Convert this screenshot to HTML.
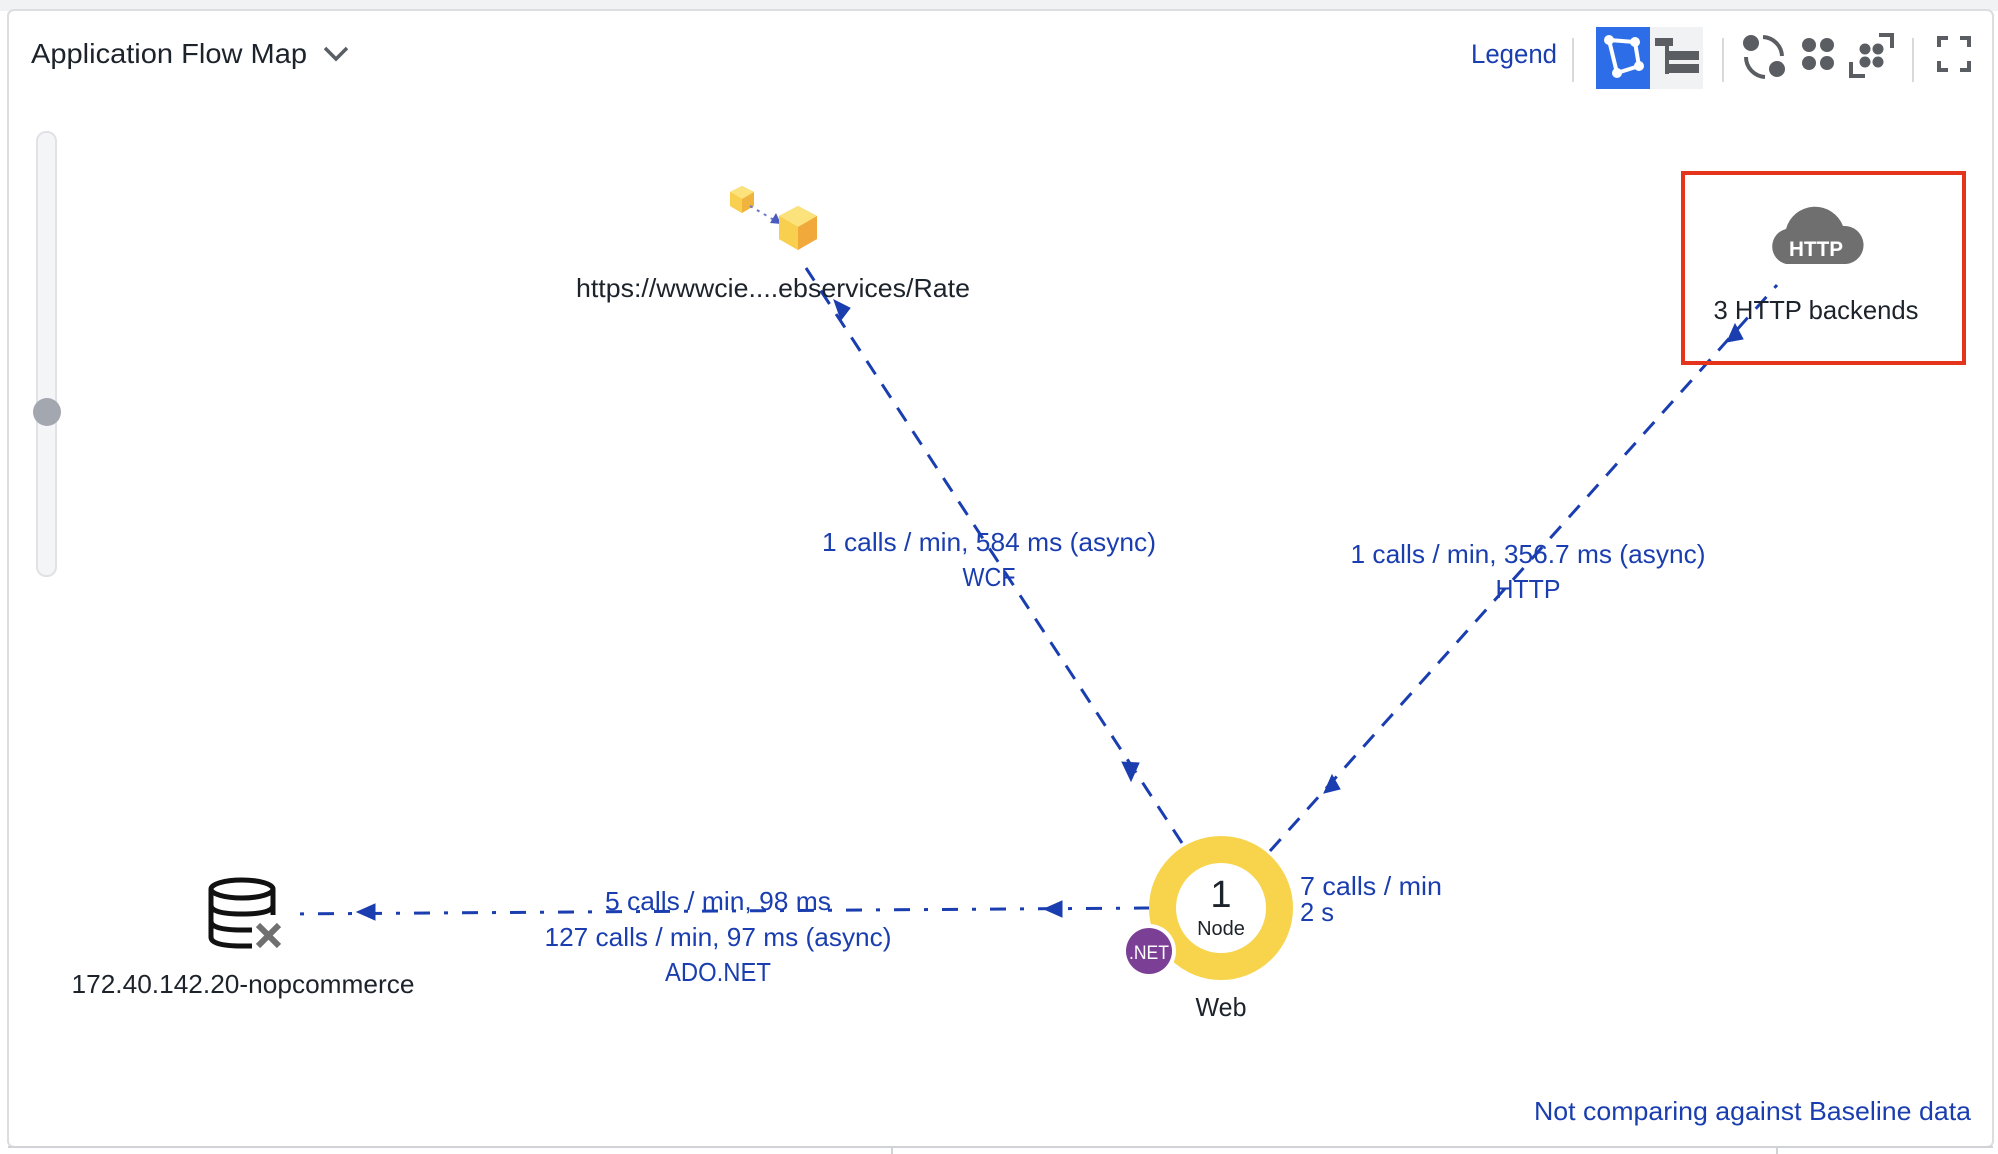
<!DOCTYPE html>
<html><head><meta charset="utf-8"><style>
html,body{margin:0;padding:0;background:#fff;}
svg{display:block;font-family:"Liberation Sans",Arial,sans-serif;}
</style></head><body>
<svg width="1998" height="1154" viewBox="0 0 1998 1154" xmlns="http://www.w3.org/2000/svg">
<rect x="0" y="0" width="1998" height="11" fill="#f1f2f4"/>
<rect x="8" y="10" width="1985" height="1137" rx="6" fill="#fff" stroke="#dcdde0" stroke-width="2"/>
<line x1="8" y1="1147" x2="1993" y2="1147" stroke="#d0d2d6" stroke-width="2"/>
<line x1="892" y1="1147" x2="892" y2="1154" stroke="#d0d2d6" stroke-width="2"/>
<line x1="1777" y1="1147" x2="1777" y2="1154" stroke="#d0d2d6" stroke-width="2"/>

<g>
<text x="31" y="63" font-size="28" fill="#1d232b" textLength="276" lengthAdjust="spacingAndGlyphs">Application Flow Map</text>
<polyline points="325,48 336,59 347,48" fill="none" stroke="#5a5f66" stroke-width="3.5"/>
</g>

<text x="1471" y="63" font-size="27" fill="#1a3eb0" textLength="86" lengthAdjust="spacingAndGlyphs">Legend</text>
<line x1="1573" y1="38" x2="1573" y2="82" stroke="#d8d9dc" stroke-width="2"/>
<g>
<rect x="1596" y="27" width="54" height="62" fill="#2d6ee8"/>
<polygon points="1609,40 1635,42 1639,66 1617,73" fill="none" stroke="#fff" stroke-width="4"/>
<circle cx="1609" cy="40" r="5" fill="#fff"/><circle cx="1635" cy="42" r="5" fill="#fff"/><circle cx="1639" cy="66" r="5" fill="#fff"/><circle cx="1617" cy="73" r="5" fill="#fff"/>
</g>
<g>
<rect x="1650" y="27" width="53" height="62" fill="#f1f2f4"/>
<rect x="1655" y="38" width="18" height="8" fill="#5a5d61"/><rect x="1665" y="38" width="4" height="36" fill="#5a5d61"/>
<rect x="1668" y="51" width="31" height="9" fill="#5a5d61"/><rect x="1668" y="64" width="31" height="9" fill="#5a5d61"/>
</g>
<line x1="1723" y1="38" x2="1723" y2="82" stroke="#d8d9dc" stroke-width="2"/>
<g fill="#5a5d61">
<circle cx="1751" cy="43" r="8"/><circle cx="1777" cy="69" r="8"/>
<path d="M1763 37 A20 20 0 0 1 1782 56" fill="none" stroke="#5a5d61" stroke-width="4"/>
<path d="M1746 57 A20 20 0 0 0 1765 77" fill="none" stroke="#5a5d61" stroke-width="4"/>
</g>
<g fill="#5a5d61">
<circle cx="1809" cy="45" r="7"/><circle cx="1827" cy="45" r="7"/><circle cx="1809" cy="63" r="7"/><circle cx="1827" cy="63" r="7"/>
</g>
<g fill="#5a5d61">
<circle cx="1865" cy="49" r="5.5"/><circle cx="1878" cy="49" r="5.5"/><circle cx="1865" cy="62" r="5.5"/><circle cx="1878" cy="62" r="5.5"/>
<polyline points="1879,35 1892,35 1892,48" fill="none" stroke="#5a5d61" stroke-width="4"/>
<polyline points="1851,62 1851,76 1865,76" fill="none" stroke="#5a5d61" stroke-width="4"/>
</g>
<line x1="1913" y1="38" x2="1913" y2="82" stroke="#d8d9dc" stroke-width="2"/>
<g fill="none" stroke="#5a5d61" stroke-width="4">
<polyline points="1939,47 1939,38 1948,38"/><polyline points="1960,38 1969,38 1969,47"/>
<polyline points="1939,61 1939,70 1948,70"/><polyline points="1960,70 1969,70 1969,61"/>
</g>

<g>
<rect x="37" y="132" width="19" height="444" rx="9" fill="#f4f5f6" stroke="#e1e2e5" stroke-width="2"/>
<circle cx="47" cy="412" r="14" fill="#a3a8b0"/>
</g>

<g stroke="#1a3eb0" fill="#1a3eb0">
<line x1="1182" y1="843" x2="806" y2="268" stroke-width="3" stroke-dasharray="16,12"/>
<polygon points="1131,781 1122,762 1139,763"/>
<polygon points="841,320 834,300 850,308"/>
</g>
<g stroke="#1a3eb0" fill="#1a3eb0">
<line x1="1270" y1="851" x2="1777" y2="285" stroke-width="3" stroke-dasharray="16,12"/>
<polygon points="1324,793 1332,775 1340,789"/>
<polygon points="1727,342 1735,324 1743,339"/>
</g>
<g stroke="#1a3eb0" fill="#1a3eb0">
<line x1="1150" y1="908" x2="288" y2="914" stroke-width="3" stroke-dasharray="16,14,4,14"/>
<polygon points="1044,909 1062,901 1062,917"/>
<polygon points="357,912 375,904 375,920"/>
</g>

<g fill="#1a3eb0" font-size="26" text-anchor="middle">
<text x="989" y="551" textLength="334" lengthAdjust="spacingAndGlyphs">1 calls / min, 584 ms (async)</text>
<text x="989" y="586" textLength="53" lengthAdjust="spacingAndGlyphs">WCF</text>
</g>
<g fill="#1a3eb0" font-size="26" text-anchor="middle">
<text x="1528" y="563" textLength="355" lengthAdjust="spacingAndGlyphs">1 calls / min, 356.7 ms (async)</text>
<text x="1528" y="598" textLength="65" lengthAdjust="spacingAndGlyphs">HTTP</text>
</g>
<g fill="#1a3eb0" font-size="26" text-anchor="middle">
<text x="718" y="910" textLength="226" lengthAdjust="spacingAndGlyphs">5 calls / min, 98 ms</text>
<text x="718" y="946" textLength="347" lengthAdjust="spacingAndGlyphs">127 calls / min, 97 ms (async)</text>
<text x="718" y="981" textLength="106" lengthAdjust="spacingAndGlyphs">ADO.NET</text>
</g>

<g>
<polygon points="742,186 754,192 754,206 742,213 730,206 730,192" fill="#f0b33e"/>
<polygon points="742,186 754,192 742,199 730,192" fill="#fbe27a"/>
<polygon points="730,192 742,199 742,213 730,206" fill="#f8cf4f"/>
<line x1="750" y1="206" x2="774" y2="220" stroke="#6b78c9" stroke-width="2" stroke-dasharray="3,5"/>
<polygon points="770,223 776,213 781,224" fill="#4a5bc0"/>
<polygon points="798,206 817,216 817,239 798,250 779,239 779,216" fill="#f0a93a"/>
<polygon points="798,206 817,216 798,227 779,216" fill="#fbe27a"/>
<polygon points="779,216 798,227 798,250 779,239" fill="#f8cf4f"/>
<text x="773" y="297" font-size="26" fill="#1d232b" text-anchor="middle" textLength="394" lengthAdjust="spacingAndGlyphs">https://wwwcie....ebservices/Rate</text>
</g>

<rect x="1683" y="173" width="281" height="190" fill="none" stroke="#e5341c" stroke-width="4"/>
<g>
<path d="M1786 264 A18 18 0 0 1 1786 229 A30 30 0 0 1 1843 226 A19 19 0 0 1 1846 264 Z" fill="#6f6f6f"/>
<text x="1816" y="256" font-size="21" font-weight="bold" fill="#fff" text-anchor="middle" textLength="54" lengthAdjust="spacingAndGlyphs">HTTP</text>
<text x="1816" y="319" font-size="26" fill="#1d232b" text-anchor="middle" textLength="205" lengthAdjust="spacingAndGlyphs">3 HTTP backends</text>
</g>

<g>
<ellipse cx="242" cy="889" rx="31" ry="9" fill="none" stroke="#111" stroke-width="5"/>
<path d="M211 889 V937 Q211 946 242 946 L252 946" fill="none" stroke="#111" stroke-width="5"/>
<path d="M273 889 V915" fill="none" stroke="#111" stroke-width="5"/>
<path d="M211 905 Q211 914 242 914 Q273 914 273 905" fill="none" stroke="#111" stroke-width="5"/>
<path d="M211 921 Q211 930 242 930 L252 930" fill="none" stroke="#111" stroke-width="5"/>
<path d="M258 925 L279 946 M279 925 L258 946" stroke="#707070" stroke-width="6"/>
<text x="243" y="993" font-size="26" fill="#1d232b" text-anchor="middle" textLength="343" lengthAdjust="spacingAndGlyphs">172.40.142.20-nopcommerce</text>
</g>

<g>
<circle cx="1221" cy="908" r="58.5" fill="none" stroke="#f7d44c" stroke-width="27"/>
<circle cx="1149" cy="951" r="27" fill="#fff"/>
<circle cx="1149" cy="951" r="23" fill="#7b3f96"/>
<text x="1149" y="959" font-size="19" fill="#fff" text-anchor="middle" textLength="40" lengthAdjust="spacingAndGlyphs">.NET</text>
<text x="1221" y="907" font-size="38" fill="#1d232b" text-anchor="middle">1</text>
<text x="1221" y="935" font-size="20" fill="#1d232b" text-anchor="middle">Node</text>
<text x="1221" y="1016" font-size="26" fill="#1d232b" text-anchor="middle" textLength="51" lengthAdjust="spacingAndGlyphs">Web</text>
</g>
<g fill="#1a3eb0" font-size="26">
<text x="1300" y="895" textLength="142" lengthAdjust="spacingAndGlyphs">7 calls / min</text>
<text x="1300" y="921" textLength="34" lengthAdjust="spacingAndGlyphs">2 s</text>
</g>

<text x="1971" y="1120" font-size="26" fill="#1a3eb0" text-anchor="end" textLength="437" lengthAdjust="spacingAndGlyphs">Not comparing against Baseline data</text>
</svg>
</body></html>
